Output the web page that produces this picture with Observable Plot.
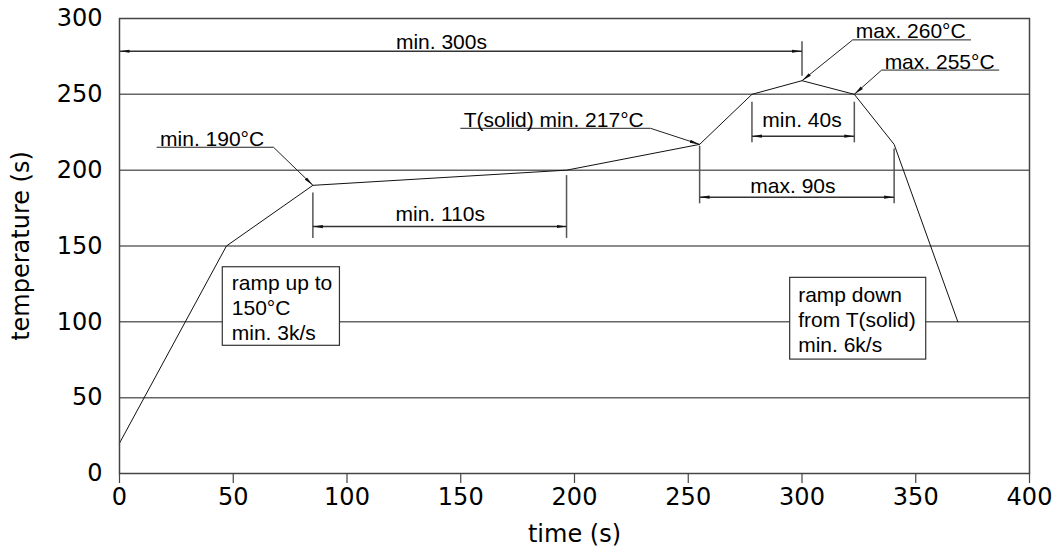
<!DOCTYPE html>
<html><head><meta charset="utf-8">
<script src="https://cdn.jsdelivr.net/npm/d3@7"></script>
<script src="https://cdn.jsdelivr.net/npm/@observablehq/plot@0.6"></script>
<style>body{margin:0;background:#fff}#chart{width:1061px;height:552px}</style>
</head><body><div id="chart"></div>
<script>
// Reflow profile (time in s, temperature)
const profileTime = [0, 47, 85, 196.5, 255, 278, 300, 323, 340.5, 368.5];
const profileTemp = [20, 150, 190, 200, 217, 250, 259, 250, 217, 100];
const gridTemps = [50, 100, 150, 200, 250];
const xTicks = [0, 50, 100, 150, 200, 250, 300, 350, 400];
const yTicks = [0, 50, 100, 150, 200, 250, 300];

// Dimension lines (double arrows)
const dimLabels = ["min. 300s", "min. 110s", "min. 40s", "max. 90s"];
const dimStart = [0, 85, 278, 255];
const dimEnd = [300, 196.5, 323, 340.5];
const dimTemp = [278.4, 162.8, 222.4, 182.2];
const dimLabelTime = [141.5, 141, 300, 296];
const dimLabelTemp = [280, 166.8, 228.3, 184.8];

// Extension lines
const extTime = [300, 85, 196.5, 278, 323, 255, 340.5];
const extTop = [284.6, 185, 196.4, 244.8, 244.8, 215.8, 214];
const extBottom = [262, 155, 155, 218, 218, 177.8, 177.8];

// Leader annotations: underline (far end → knee), then diagonal to target
const leaderLabels = ["min. 190°C", "T(solid) min. 217°C", "max. 260°C", "max. 255°C"];
const leaderFar = [16.5, 150, 374.1, 386.5];
const leaderKnee = [67.7, 233.4, 322.3, 335];
const leaderTemp = [215.1, 227.6, 285.9, 266];
const leaderTargetTime = [85, 255, 300, 323];
const leaderTargetTemp = [190, 217, 259, 250];

// Text boxes
const boxTexts = ["ramp up to\n150°C\nmin. 3k/s", "ramp down\nfrom T(solid)\nmin. 6k/s"];
const boxLeft = [45.4, 294.8];
const boxRight = [96.9, 354.6];
const boxTop = [136, 129];
const boxBottom = [84.2, 75.1];

const profile = profileTime.map((t, i) => ({t, T: profileTemp[i]}));
const dims = dimLabels.map((label, i) => ({label, x1: dimStart[i], x2: dimEnd[i], y: dimTemp[i], lx: dimLabelTime[i], ly: dimLabelTemp[i]}));
const exts = extTime.map((t, i) => ({t, y1: extTop[i], y2: extBottom[i]}));
const leaderPts = leaderLabels.flatMap((label, i) => [
  {i, t: leaderFar[i], T: leaderTemp[i]},
  {i, t: leaderKnee[i], T: leaderTemp[i]},
  {i, t: leaderTargetTime[i], T: leaderTargetTemp[i]}
]);
const leaderText = leaderLabels.map((label, i) => ({label, t: Math.min(leaderFar[i], leaderKnee[i]), T: leaderTemp[i]}));
const boxes = boxTexts.map((text, i) => ({text, x1: boxLeft[i], x2: boxRight[i], y1: boxBottom[i], y2: boxTop[i]}));

const ANN = "Liberation Sans, Arial, sans-serif";
const AX = "DejaVu Sans, Verdana, sans-serif";

const chart = Plot.plot({
  width: 1061,
  height: 552,
  marginLeft: 119,
  marginRight: 32,
  marginTop: 18,
  marginBottom: 79,
  style: {fontFamily: AX, fontSize: "24px", background: "#fff", color: "#000"},
  x: {domain: [0, 400]},
  y: {domain: [0, 300]},
  marks: [
    Plot.ruleY(gridTemps, {stroke: "#666", strokeWidth: 1.5, strokeOpacity: 1}),
    Plot.axisX({ticks: xTicks, tickSize: 10, tickPadding: 4, fontSize: 24, fontFamily: AX, label: null, stroke: "#444", strokeWidth: 1.2}),
    Plot.axisY({ticks: yTicks, tickSize: 0, tickPadding: 17, fontSize: 24, fontFamily: AX, label: null}),
    Plot.text(["time (s)"], {frameAnchor: "bottom", dy: 61, lineAnchor: "middle", textAnchor: "middle", fontSize: 24, fontFamily: AX}),
    Plot.text(["temperature (s)"], {frameAnchor: "left", rotate: -90, dx: -98, textAnchor: "middle", lineAnchor: "middle", fontSize: 24, fontFamily: AX}),
    Plot.rect(boxes, {x1: "x1", x2: "x2", y1: "y1", y2: "y2", fill: "#fff", stroke: "#333", strokeWidth: 1.2}),
    Plot.text(boxes.slice(0, 1), {x: "x1", y: "y2", text: "text", dx: 9, dy: 5, textAnchor: "start", lineAnchor: "top", lineHeight: 25 / 21, fontSize: 21, fontFamily: ANN}),
    Plot.text(boxes.slice(1), {x: "x1", y: "y2", text: "text", dx: 8, dy: 6, textAnchor: "start", lineAnchor: "top", lineHeight: 25 / 21, fontSize: 21, fontFamily: ANN}),
    Plot.ruleX(exts, {x: "t", y1: "y1", y2: "y2", stroke: "#555", strokeWidth: 1.5}),
    Plot.link(dims, {x1: "x1", x2: "x2", y1: "y", y2: "y", stroke: "#333", strokeWidth: 1.5, markerStart: "arrow", markerEnd: "arrow"}),
    Plot.text(dims, {x: "lx", y: "ly", text: "label", lineAnchor: "bottom", fontSize: 21, fontFamily: ANN}),
    Plot.line(leaderPts, {x: "t", y: "T", z: "i", stroke: "#222", strokeWidth: 1, markerEnd: "arrow"}),
    Plot.text(leaderText, {x: "t", y: "T", text: "label", textAnchor: "start", lineAnchor: "bottom", dx: 3, dy: -1.5, fontSize: 21, fontFamily: ANN}),
    Plot.line(profile, {x: "t", y: "T", stroke: "#111", strokeWidth: 1}),
    Plot.frame({stroke: "#444", strokeWidth: 1.5})
  ]
});

// Filled, slender arrowheads like the reference drawing
chart.querySelectorAll("marker").forEach((m) => {
  m.setAttribute("viewBox", "-10 -5 10 10");
  m.setAttribute("markerUnits", "userSpaceOnUse");
  m.setAttribute("markerWidth", 10);
  m.setAttribute("markerHeight", 10);
  m.setAttribute("orient", "auto-start-reverse");
  m.setAttribute("fill", "#111");
  m.setAttribute("stroke", "none");
  m.innerHTML = "";
  const p = document.createElementNS("http://www.w3.org/2000/svg", "path");
  p.setAttribute("d", "M-10,-1.6L0,0L-10,1.6Z");
  p.setAttribute("fill", "#111");
  p.setAttribute("stroke", "none");
  m.appendChild(p);
});

document.getElementById("chart").appendChild(chart);
</script>
</body></html>
